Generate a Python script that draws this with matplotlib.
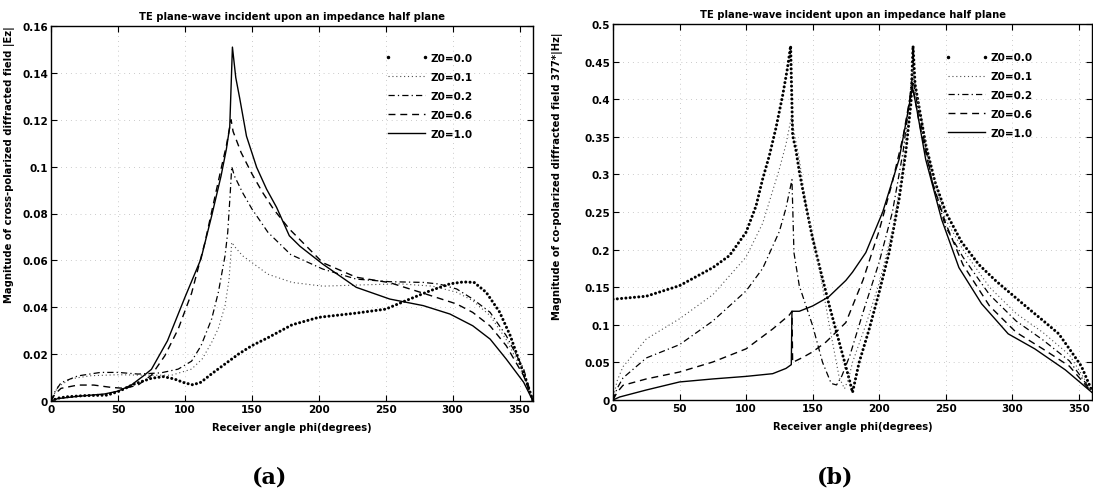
import numpy as np
import matplotlib
matplotlib.use('Agg')
import matplotlib.pyplot as plt
from matplotlib.lines import Line2D

plt.rcParams['font.family'] = ['DejaVu Sans']
plt.rcParams['font.weight'] = 'bold'

# ---- (a) cross-polarized |Ez| ----
phi_a00 = [0, 5, 12, 25, 42, 51, 62, 75, 84, 92, 100, 106, 112, 120, 130, 140, 150, 162,
           180, 200, 228, 250, 265, 283, 298, 308, 316, 325, 335, 343, 350, 355, 360]
a00 = [0, 0.0012, 0.0018, 0.0023, 0.0025, 0.0042, 0.0072, 0.0097, 0.0104, 0.0094, 0.0077,
       0.0069, 0.0080, 0.0116, 0.0158, 0.0200, 0.0236, 0.0270, 0.0325, 0.0357, 0.0375,
       0.0392, 0.0428, 0.0470, 0.0500, 0.0508, 0.0506, 0.0464, 0.0380, 0.0279, 0.0165,
       0.0085, 0.0]

phi_a01 = [0, 5, 15, 30, 50, 70, 90, 105, 113, 120, 125, 130, 133, 135, 137, 143, 150, 162,
           180, 203, 230, 260, 285, 303, 315, 328, 340, 350, 355, 360]
a01 = [0, 0.006, 0.0095, 0.0108, 0.0112, 0.011, 0.011, 0.0136, 0.018, 0.025, 0.031, 0.0407,
       0.052, 0.0677, 0.066, 0.062, 0.0591, 0.0541, 0.0506, 0.049, 0.0495, 0.050, 0.049,
       0.0464, 0.0428, 0.0364, 0.0262, 0.0151, 0.008, 0]

phi_a02 = [0, 3, 7.5, 20, 37, 50, 65, 82, 95, 105, 112, 120, 125, 130, 132, 134, 135, 137,
           143, 150, 162, 179, 203, 228, 253, 278, 290, 303, 315, 328, 340, 353, 360]
a02 = [0, 0.004, 0.0078, 0.0107, 0.0122, 0.0122, 0.0115, 0.012, 0.0136, 0.017, 0.0235, 0.035,
       0.0464, 0.062, 0.072, 0.09, 0.10, 0.096, 0.089, 0.082, 0.072, 0.0625, 0.0563, 0.052,
       0.0509, 0.0506, 0.0499, 0.0478, 0.0435, 0.0378, 0.0279, 0.0137, 0]

phi_a06 = [0, 3, 7.5, 20, 32, 45, 55, 65, 75, 85, 95, 105, 115, 122, 127, 131, 134.5, 136,
           142, 150, 158, 166, 178, 203, 228, 253, 278, 303, 315, 328, 340, 353, 360]
a06 = [0, 0.003, 0.0054, 0.0068, 0.0068, 0.0058, 0.0054, 0.0068, 0.011, 0.0193, 0.0307,
       0.046, 0.0677, 0.086, 0.099, 0.109, 0.12, 0.115, 0.106, 0.097, 0.089, 0.082, 0.0734,
       0.059, 0.0528, 0.0505, 0.046, 0.0414, 0.0378, 0.032, 0.0236, 0.0108, 0]

phi_a10 = [0, 5, 20, 40, 50, 60, 69, 75, 87, 100, 112, 120, 127, 131, 133.5, 135.5, 138, 141,
           146, 153.6, 161, 168.5, 178, 186, 203, 228, 253, 278, 298, 315, 328, 340, 353, 360]
a10 = [0, 0.001, 0.002, 0.003, 0.0042, 0.0068, 0.0107, 0.0135, 0.0257, 0.0442, 0.0606, 0.079,
       0.096, 0.1075, 0.117, 0.151, 0.138, 0.129, 0.113, 0.0997, 0.0904, 0.0826, 0.0705,
       0.066, 0.0584, 0.0485, 0.0435, 0.0407, 0.0371, 0.0321, 0.0264, 0.0179, 0.008, 0]

# ---- (b) co-polarized 377*|Hz| ----
phi_b00 = [0, 25, 50, 75, 87.5, 100, 107.5, 112.5, 117.5, 122.5, 127.5, 131, 133.5, 135,
           137.5, 140, 144, 150, 155, 162.5, 170, 177.5, 180, 185, 192.5, 200, 207.5, 215,
           220, 224, 225.5, 227, 235, 242, 250, 262, 275, 288, 300, 312, 325, 335, 343, 352, 360]
b00 = [0.134, 0.138, 0.152, 0.176, 0.192, 0.223, 0.258, 0.294, 0.325, 0.362, 0.405, 0.44,
       0.471, 0.352, 0.332, 0.304, 0.267, 0.215, 0.179, 0.126, 0.077, 0.028, 0.01, 0.05,
       0.094, 0.143, 0.196, 0.267, 0.329, 0.396, 0.471, 0.42, 0.34, 0.29, 0.25, 0.21, 0.18,
       0.158, 0.14, 0.122, 0.103, 0.088, 0.068, 0.045, 0.012]

phi_b01 = [0, 3, 7.5, 25, 50, 75, 100, 112.5, 125, 130, 134, 140, 145, 152.5, 162.5, 170, 174,
           177, 180, 190, 200, 210, 218, 225, 230, 240, 250, 263, 283, 303, 323, 343, 360]
b01 = [0, 0.025, 0.0443, 0.0811, 0.108, 0.14, 0.19, 0.235, 0.307, 0.34, 0.376, 0.32, 0.26,
       0.2, 0.1, 0.03, 0.015, 0.028, 0.05, 0.1, 0.155, 0.225, 0.31, 0.44, 0.39, 0.3, 0.24,
       0.2, 0.15, 0.115, 0.09, 0.06, 0.012]

phi_b02 = [0, 3, 7.5, 25, 50, 75, 100, 112.5, 125, 130, 134.5, 136, 140, 150, 157.5, 164,
           168, 172, 178, 188, 200, 210, 218, 225, 230, 240, 250, 263, 283, 303, 323, 343, 360]
b02 = [0, 0.015, 0.0293, 0.0559, 0.0736, 0.105, 0.145, 0.175, 0.224, 0.255, 0.293, 0.196,
       0.152, 0.099, 0.05, 0.022, 0.02, 0.032, 0.059, 0.117, 0.183, 0.25, 0.33, 0.43, 0.38,
       0.29, 0.23, 0.19, 0.14, 0.105, 0.08, 0.052, 0.011]

phi_b06 = [0, 3, 7.5, 25, 50, 75, 100, 120, 132.5, 134.5, 135, 142.7, 150, 160, 175, 188, 200,
           210, 218, 225, 230, 240, 250, 263, 283, 303, 323, 343, 360]
b06 = [0, 0.01, 0.0195, 0.028, 0.0372, 0.0505, 0.068, 0.0944, 0.113, 0.118, 0.05, 0.0567,
       0.064, 0.077, 0.103, 0.16, 0.225, 0.29, 0.35, 0.42, 0.37, 0.29, 0.235, 0.18, 0.125,
       0.09, 0.068, 0.045, 0.01]

phi_b10 = [0, 5, 25, 50, 75, 100, 120, 130, 134, 134.5, 140, 150, 162, 175, 180, 190, 202.7,
           215, 222.5, 225, 228, 235, 247, 260, 277, 297, 317, 340, 360]
b10 = [0, 0.004, 0.0133, 0.024, 0.028, 0.0314, 0.035, 0.042, 0.047, 0.118, 0.118, 0.125,
       0.137, 0.159, 0.17, 0.196, 0.25, 0.32, 0.391, 0.416, 0.39, 0.32, 0.24, 0.176, 0.128,
       0.088, 0.068, 0.04, 0.01]

labels = ['Z0=0.0', 'Z0=0.1', 'Z0=0.2', 'Z0=0.6', 'Z0=1.0']

W, H = 1093, 502
fig = plt.figure(figsize=(W / 100, H / 100), dpi=100)
ax1 = fig.add_axes([51 / W, (H - 402) / H, 482 / W, 375 / H])
ax2 = fig.add_axes([613 / W, (H - 401) / H, 479 / W, 376 / H])

dot_style = dict(color='k', lw=2.2, ls=(0, (0.01, 1.4)), dash_capstyle='round')
styles = [
    dict(color='0.3', lw=0.8, ls=(0, (1, 2.5))),
    dict(color='k', lw=0.9, ls=(0, (5, 2.5, 1, 2.5))),
    dict(color='k', lw=1.0, ls=(0, (5, 3.5))),
    dict(color='k', lw=1.0, ls='-'),
]

def draw(ax, series, ymax, yticks, yticklabels, ylabel, lab_xy, leg_y):
    ax.plot(series[0][0], series[0][1], **dot_style)
    for (px, py), st in zip(series[1:], styles):
        ax.plot(px, py, **st)
    ax.set_xlim(0, 360)
    ax.set_ylim(0, ymax)
    ax.set_xticks(range(0, 360, 50))
    ax.set_yticks(yticks)
    ax.set_yticklabels(yticklabels)
    ax.grid(True, color='0.6', ls=(0, (1, 6)), lw=0.5)
    ax.tick_params(direction='in', top=True, right=True, length=4, width=0.8,
                   labelsize=7.5, pad=2)
    for s in ax.spines.values():
        s.set_linewidth(1.0)
    ax.set_title('TE plane-wave incident upon an impedance half plane',
                 fontsize=7.2, fontweight='bold', pad=5)
    ax.set_xlabel('Receiver angle phi(degrees)', fontsize=7.2, fontweight='bold')
    ax.xaxis.set_label_coords(0.5, -0.055)
    ax.set_ylabel(ylabel, fontsize=7.2, fontweight='bold')
    ax.yaxis.set_label_coords(*lab_xy)

    handles = [Line2D([], [], ls='none', marker='.', ms=3, color='k')]
    handles += [Line2D([], [], **st) for st in styles]
    ax.legend(handles, labels, loc='upper left', bbox_to_anchor=(0.693, leg_y),
              frameon=False, fontsize=7.5, numpoints=2, handlelength=4.1,
              handletextpad=0.3, labelspacing=0.86, borderpad=0, borderaxespad=0)

draw(ax1, [(phi_a00, a00), (phi_a01, a01), (phi_a02, a02), (phi_a06, a06), (phi_a10, a10)],
     0.16, [0, 0.02, 0.04, 0.06, 0.08, 0.1, 0.12, 0.14, 0.16],
     ['0', '0.02', '0.04', '0.06', '0.08', '0.1', '0.12', '0.14', '0.16'],
     'Magnitude of cross-polarized diffracted field |Ez|', (-0.075, 0.632), 0.928)
draw(ax2, [(phi_b00, b00), (phi_b01, b01), (phi_b02, b02), (phi_b06, b06), (phi_b10, b10)],
     0.5, [0, 0.05, 0.1, 0.15, 0.2, 0.25, 0.3, 0.35, 0.4, 0.45, 0.5],
     ['0', '0.05', '0.1', '0.15', '0.2', '0.25', '0.3', '0.35', '0.4', '0.45', '0.5'],
     'Magnitude of co-polarized diffracted field 377*|Hz|', (-0.104, 0.598), 0.925)

fig.text(270 / W, 1 - 478 / H, '(a)', family='DejaVu Serif', fontweight='bold',
         fontsize=16, ha='center', va='center')
fig.text(835 / W, 1 - 478 / H, '(b)', family='DejaVu Serif', fontweight='bold',
         fontsize=16, ha='center', va='center')

fig.savefig('out.png', dpi=100)
